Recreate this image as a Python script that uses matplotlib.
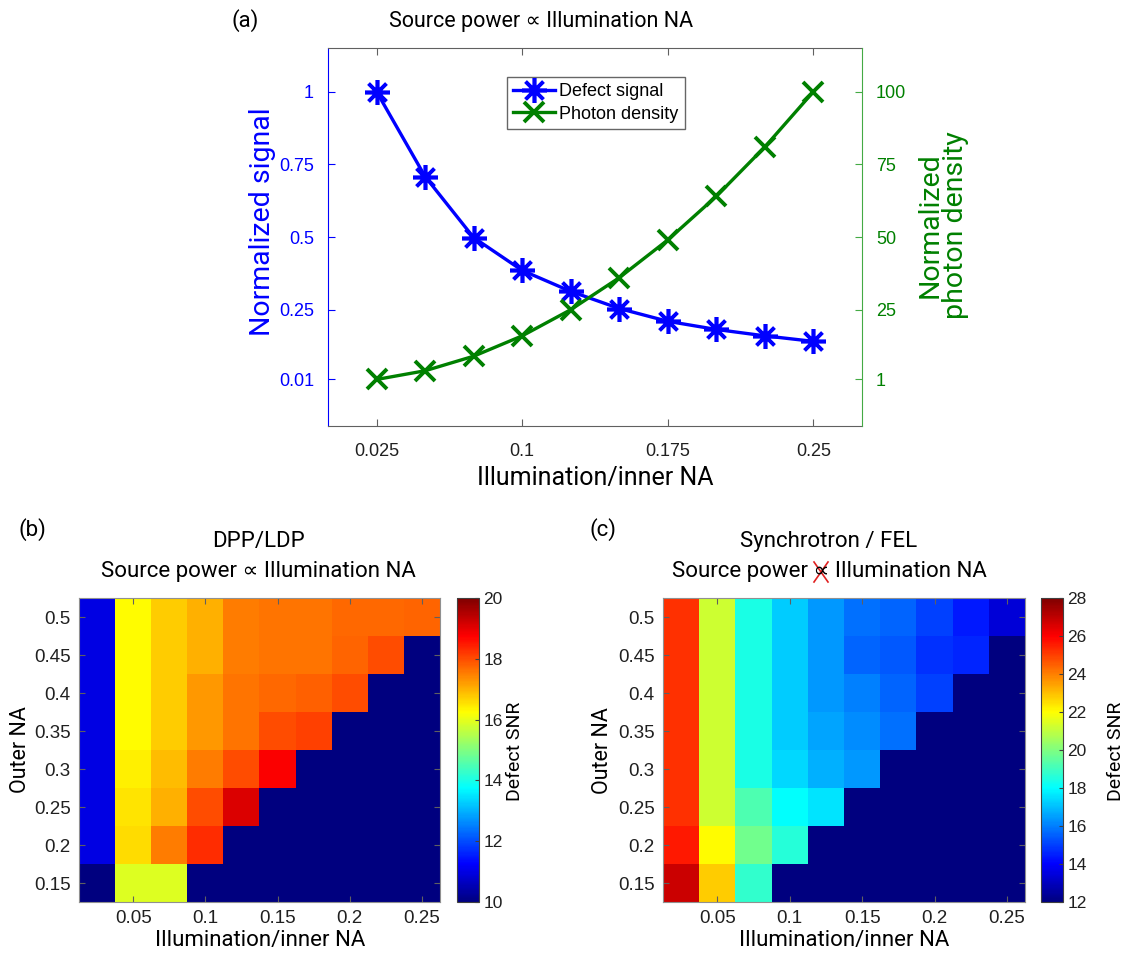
import numpy as np
import matplotlib
matplotlib.use("Agg")
import matplotlib.pyplot as plt
from matplotlib.lines import Line2D
from matplotlib.colors import LinearSegmentedColormap

# ---------------- data ----------------
na_illum = [0.025, 0.05, 0.075, 0.1, 0.125, 0.15, 0.175, 0.2, 0.225, 0.25]
defect_signal = [1.0, 0.708, 0.498, 0.385, 0.313, 0.254, 0.21, 0.182, 0.16, 0.141]
photon_density = [1, 4, 9, 16, 25, 36, 49, 64, 81, 100]

outer_na = [0.15, 0.2, 0.25, 0.3, 0.35, 0.4, 0.45, 0.5]
nan = np.nan
# rows: outer NA 0.15 -> 0.5 ; columns: illumination NA 0.025 -> 0.25
snr_dpp = [
    [nan, 15.9, 15.9, nan, nan, nan, nan, nan, nan, nan],
    [11.0, 16.6, 17.5, 18.3, nan, nan, nan, nan, nan, nan],
    [11.0, 16.5, 17.0, 18.0, 19.1, nan, nan, nan, nan, nan],
    [11.0, 16.4, 16.9, 17.5, 18.0, 18.75, nan, nan, nan, nan],
    [11.0, 16.25, 16.75, 17.25, 17.6, 18.0, 18.1, nan, nan, nan],
    [11.0, 16.25, 16.75, 17.25, 17.6, 17.7, 17.8, 18.0, nan, nan],
    [11.0, 16.25, 16.75, 17.0, 17.5, 17.6, 17.6, 17.75, 18.0, nan],
    [11.0, 16.25, 16.75, 17.0, 17.5, 17.6, 17.6, 17.7, 17.7, 17.75],
]
snr_sync = [
    [26.8, 22.8, 18.8, nan, nan, nan, nan, nan, nan, nan],
    [25.6, 22.0, 19.8, 18.6, nan, nan, nan, nan, nan, nan],
    [25.2, 21.2, 19.2, 18.0, 17.6, nan, nan, nan, nan, nan],
    [25.2, 21.2, 18.4, 17.4, 16.8, 16.4, nan, nan, nan, nan],
    [25.2, 21.2, 18.4, 17.2, 16.6, 16.2, 15.8, nan, nan, nan],
    [25.2, 21.2, 18.4, 17.2, 16.4, 16.0, 15.6, 15.0, nan, nan],
    [25.2, 21.2, 18.4, 17.2, 16.4, 15.6, 15.4, 14.8, 14.6, nan],
    [25.2, 21.2, 18.4, 17.2, 16.4, 15.8, 15.6, 15.0, 14.4, 13.4],
]
dpp_ticks = [10, 12, 14, 16, 18, 20]
sync_ticks = [12, 14, 16, 18, 20, 22, 24, 26, 28]
heat_xticks = [0.05, 0.1, 0.15, 0.2, 0.25]
heat_xlabels = ["0.05", "0.1", "0.15", "0.2", "0.25"]
heat_ylabels = ["0.15", "0.2", "0.25", "0.3", "0.35", "0.4", "0.45", "0.5"]
top_xticks = [0.025, 0.1, 0.175, 0.25]
top_xlabels = ["0.025", "0.1", "0.175", "0.25"]
left_ticks = [0.01, 0.25, 0.5, 0.75, 1]
left_labels = ["0.01", "0.25", "0.5", "0.75", "1"]
right_ticks = [1, 25, 50, 75, 100]

# ---------------- style ----------------
W, H = 1127, 963
TXT = ["Roboto", "DejaVu Sans"]
NUM = ["Liberation Sans", "DejaVu Sans"]
BLUE = "#0000ff"
GREEN = "#008000"
FRAME = "#606060"

# MATLAB-style jet
mjet = LinearSegmentedColormap("mjet", {
    "red": [(0, 0, 0), (0.375, 0, 0), (0.625, 1, 1), (0.875, 1, 1), (1, 0.5, 0.5)],
    "green": [(0, 0, 0), (0.125, 0, 0), (0.375, 1, 1), (0.625, 1, 1), (0.875, 0, 0), (1, 0, 0)],
    "blue": [(0, 0.5, 0.5), (0.125, 1, 1), (0.375, 1, 1), (0.625, 0, 0), (1, 0, 0)],
}, N=256)
cmap = mjet.with_extremes(bad=mjet(0.0))

fig = plt.figure(figsize=(W / 100, H / 100), dpi=100)


def box(l, t, r, b):
    return [l / W, 1 - b / H, (r - l) / W, (b - t) / H]


def ftext(x, y, s, **kw):
    kw.setdefault("family", TXT)
    kw.setdefault("ha", "center")
    kw.setdefault("va", "center")
    return fig.text(x / W, 1 - y / H, s, **kw)


# ---------------- panel (a) ----------------
ax = fig.add_axes(box(328, 48, 862, 426))
l1, = ax.plot(na_illum, defect_signal, color=BLUE, lw=2.4, marker=(8, 2, 0),
              ms=18, mew=2.6, label="Defect signal")
ax.set_xlim(0, 0.275)
ax.set_ylim(-0.15, 1.15)
ax.set_xticks(top_xticks)
ax.set_xticklabels(top_xlabels)
ax.set_yticks(left_ticks)
ax.set_yticklabels(left_labels)
ax.tick_params(axis="x", direction="in", top=True, length=5, colors=FRAME,
               labelcolor="#202020", labelsize=13, pad=12)
ax.tick_params(axis="y", direction="in", length=5, colors=BLUE,
               labelcolor=BLUE, labelsize=13, pad=10)
for lab in ax.get_xticklabels() + ax.get_yticklabels():
    lab.set_family(NUM)
ax.spines["right"].set_visible(False)
ax.spines["left"].set_color(BLUE)
ax.spines["top"].set_color(FRAME)
ax.spines["bottom"].set_color(FRAME)

ax2 = ax.twinx()
l2, = ax2.plot(na_illum, photon_density, color=GREEN, lw=2.4, marker="x",
               ms=14, mew=2.8, label="Photon density")
ax2.set_ylim(-15, 115)
ax2.set_yticks(right_ticks)
ax2.tick_params(axis="y", direction="in", length=5, colors="#44aa44",
                labelcolor=GREEN, labelsize=13, pad=10)
for lab in ax2.get_yticklabels():
    lab.set_family(NUM)
for s in ["left", "top", "bottom"]:
    ax2.spines[s].set_visible(False)
ax2.spines["right"].set_color("#44aa44")

leg = ax2.legend(handles=[l1, l2], loc="upper left",
                 bbox_to_anchor=(507 / W, 1 - 77 / H), bbox_transform=fig.transFigure,
                 prop={"family": NUM, "size": 13}, frameon=True, fancybox=False,
                 edgecolor="#404040", borderpad=0.35, handlelength=2.3,
                 handletextpad=0.25, labelspacing=0.3, borderaxespad=0)
leg.get_frame().set_linewidth(1.0)

ftext(245, 21, "(a)", fontsize=16)
ftext(541, 21, "Source power \u221d Illumination NA", fontsize=15.5)
ftext(595, 478, "Illumination/inner NA", fontsize=18)
ftext(262, 222, "Normalized signal", fontsize=20.5, color=BLUE, rotation=90)
ftext(943, 225, "Normalized\nphoton density", fontsize=20.5, color=GREEN,
      rotation=90, linespacing=0.95)

# ---------------- heatmaps ----------------
extent = [na_illum[0] - 0.0125, na_illum[-1] + 0.0125,
          outer_na[0] - 0.025, outer_na[-1] + 0.025]


def heat(axbox, cbbox, data, vmin, vmax, cticks):
    hx = fig.add_axes(box(*axbox))
    im = hx.imshow(np.ma.masked_invalid(np.array(data)), origin="lower",
                   extent=extent, aspect="auto", cmap=cmap, vmin=vmin, vmax=vmax,
                   interpolation="nearest")
    hx.set_xticks(heat_xticks)
    hx.set_xticklabels(heat_xlabels)
    hx.set_yticks(outer_na)
    hx.set_yticklabels(heat_ylabels)
    hx.tick_params(direction="in", top=True, right=True, length=4, colors=FRAME,
                   labelcolor="#202020", labelsize=13.5, pad=6)
    for lab in hx.get_xticklabels() + hx.get_yticklabels():
        lab.set_family(NUM)
    for s in hx.spines.values():
        s.set_color("#909090")
    cx = fig.add_axes(box(*cbbox))
    cb = fig.colorbar(im, cax=cx, ticks=cticks)
    cb.outline.set_edgecolor("#404040")
    cx.tick_params(direction="in", length=3, colors="#404040",
                   labelcolor="#202020", labelsize=12.5, pad=3)
    for lab in cx.get_yticklabels():
        lab.set_family(NUM)
    return hx


hb = heat((79, 598, 440, 902), (457, 598, 479, 902), snr_dpp, 10, 20, dpp_ticks)
hc = heat((663, 598, 1025, 902), (1041, 598, 1063, 902), snr_sync, 12, 28, sync_ticks)

ftext(32, 530, "(b)", fontsize=16)
ftext(258, 542, "DPP/LDP", fontsize=16)
ftext(258, 572, "Source power \u221d Illumination NA", fontsize=16)
ftext(260, 940, "Illumination/inner NA", fontsize=16)
ftext(20, 750, "Outer NA", fontsize=15.5, rotation=90)
ftext(515, 751, "Defect SNR", fontsize=14, rotation=90)

ftext(603, 530, "(c)", fontsize=16)
ftext(829, 542, "Synchrotron / FEL", fontsize=16)
t2 = ftext(829, 572, "Source power \u221d Illumination NA", fontsize=16)
ftext(844, 940, "Illumination/inner NA", fontsize=16)
ftext(603, 751, "Outer NA", fontsize=15.5, rotation=90)
ftext(1116, 751, "Defect SNR", fontsize=14, rotation=90)

# red cross over the proportional sign in the (c) title
fig.canvas.draw()
r = fig.canvas.get_renderer()
bb = t2.get_window_extent(r)
tmp = fig.text(0, 0, "Source power \u221d", family=TXT, fontsize=16)
w_pref = tmp.get_window_extent(r).width
tmp.remove()
tmp = fig.text(0, 0, "\u221d", family=TXT, fontsize=16)
w_sym = tmp.get_window_extent(r).width
tmp.remove()
cx_px = bb.x0 + w_pref - w_sym / 2
cy_px = (bb.y0 + bb.y1) / 2
hw, hh = 7, 10
for dx1, dy1, dx2, dy2 in [(-hw, -hh, hw, hh), (-hw, hh, hw, -hh)]:
    fig.add_artist(Line2D([(cx_px + dx1) / W, (cx_px + dx2) / W],
                          [(cy_px + dy1) / H, (cy_px + dy2) / H],
                          transform=fig.transFigure, color="#e02020", lw=1.2))

fig.savefig("out.png", dpi=100)
